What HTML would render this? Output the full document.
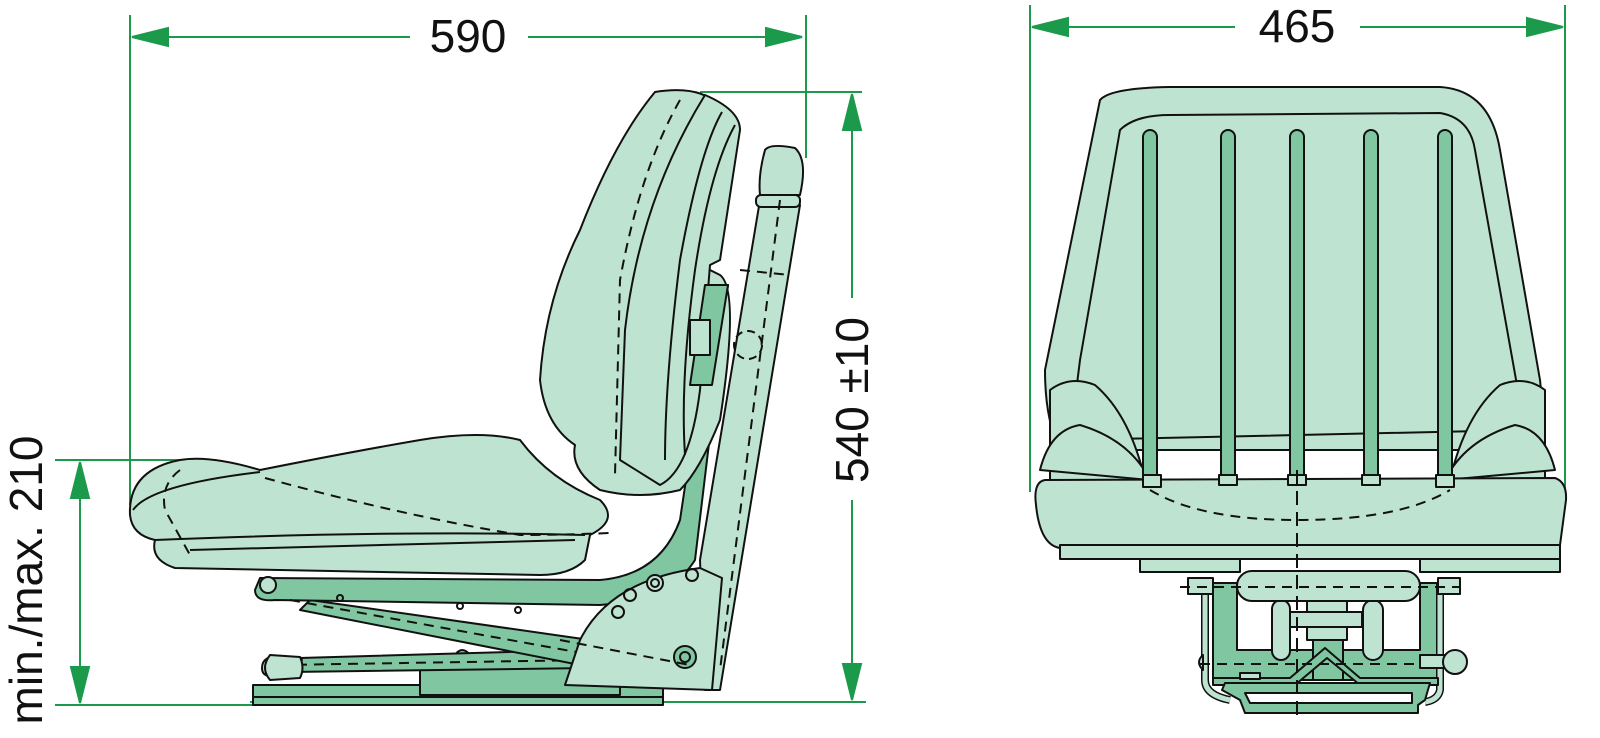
<!DOCTYPE html>
<html><head><meta charset="utf-8"><style>
html,body{margin:0;padding:0;background:#fff;width:1600px;height:738px;overflow:hidden}
svg{display:block}
text{font-family:"Liberation Sans Narrow","Liberation Sans",sans-serif;font-size:46px;fill:#111}
</style></head><body>
<svg width="1600" height="738" viewBox="0 0 1600 738" xmlns="http://www.w3.org/2000/svg">
<g stroke="#1a9a4a" stroke-width="2" fill="none">
<line x1="130" y1="15" x2="130" y2="505"/>
<line x1="806" y1="15" x2="806" y2="158"/>
<line x1="700" y1="92" x2="862" y2="92"/>
<line x1="250" y1="702" x2="866" y2="702"/>
<line x1="55" y1="460" x2="185" y2="460"/>
<line x1="55" y1="705" x2="255" y2="705"/>
<line x1="1030" y1="5" x2="1030" y2="492"/>
<line x1="1565" y1="5" x2="1565" y2="492"/>
</g>
<g stroke="#1a9a4a" stroke-width="2">
<line x1="132" y1="37" x2="410" y2="37"/><polygon points="132,37 168,28 168,46" fill="#1a9a4a"/>
<line x1="528" y1="37" x2="800" y2="37"/><polygon points="802,37 766,28 766,46" fill="#1a9a4a"/>
<line x1="1032" y1="27" x2="1235" y2="27"/><polygon points="1032,27 1068,18 1068,36" fill="#1a9a4a"/>
<line x1="1360" y1="27" x2="1562" y2="27"/><polygon points="1563,27 1527,18 1527,36" fill="#1a9a4a"/>
<line x1="852" y1="94" x2="852" y2="298"/><polygon points="852,94 843,130 861,130" fill="#1a9a4a"/>
<line x1="852" y1="500" x2="852" y2="700"/><polygon points="852,700 843,664 861,664" fill="#1a9a4a"/>
<line x1="80" y1="462" x2="80" y2="703"/><polygon points="80,462 71,498 89,498" fill="#1a9a4a"/><polygon points="80,703 71,667 89,667" fill="#1a9a4a"/>
</g>
<text x="468" y="52" text-anchor="middle">590</text>
<text x="1297" y="42" text-anchor="middle">465</text>
<text transform="translate(868,400) rotate(-90)" text-anchor="middle">540 ±10</text>
<text transform="translate(42,580) rotate(-90)" text-anchor="middle">min./max. 210</text>

<g stroke="#111" stroke-width="2" stroke-linejoin="round">
<!-- LEFT VIEW -->
<rect x="253" y="685" width="410" height="20" fill="#80c6a0"/>
<line x1="253" y1="697" x2="663" y2="697"/>
<rect x="420" y="665" width="200" height="30" fill="#80c6a0"/>
<path d="M430,663 L430,655 L455,655 Q462,645 470,655 L505,655 L505,663 Z" fill="#80c6a0"/>
<path d="M290,672 L300,658 L580,650 L590,668 Z" fill="#80c6a0"/>
<path d="M262,668 Q262,655 282,656 L302,658 L300,672 L282,674 Q262,680 262,668 Z" fill="#bfe3d1"/>
<line x1="280" y1="665" x2="590" y2="660" stroke-dasharray="10,7"/>
<path d="M310,600 L590,640 L600,660 L580,665 L300,610 Z" fill="#80c6a0"/>
<path d="M260,578 L600,580 Q660,575 680,520 L715,285 L728,285 L695,560 Q670,600 600,605 L275,600 Q255,602 255,590 Z" fill="#80c6a0"/>
<line x1="290" y1="600" x2="620" y2="660" stroke-dasharray="10,7"/>
<circle cx="268" cy="585" r="8" fill="#bfe3d1"/>
<circle cx="340" cy="598" r="3" fill="none"/><circle cx="460" cy="606" r="3" fill="none"/><circle cx="518" cy="610" r="3" fill="none"/><circle cx="680" cy="482" r="3" fill="none"/>
<path d="M760,200 L800,205 L720,690 L705,690 L700,560 Z" fill="#bfe3d1"/>
<path d="M765,150 Q770,143 795,148 Q808,160 800,195 L760,195 Q758,175 765,150 Z" fill="#bfe3d1"/>
<rect x="756" y="195" width="44" height="12" rx="5" fill="#bfe3d1"/>
<path d="M655,92 Q700,85 718,105 Q700,160 700,265 L720,275 Q740,290 720,420 Q700,470 680,490 Q640,500 600,490 Q570,470 575,445 Q545,425 540,380 Q545,300 580,230 Q615,140 655,92 Z" fill="#bfe3d1"/>
<path d="M705,95 Q740,110 740,130 L720,260 L710,265 L700,390 Q690,470 660,485 L620,460 L625,330 Q640,200 705,95 Z" fill="#bfe3d1"/>
<path d="M722,112 Q700,150 680,260 Q665,380 665,460" fill="none"/>
<path d="M735,125 Q710,170 695,270 Q680,380 685,455" fill="none"/>
<path d="M680,100 Q640,170 620,280 L615,475" fill="none" stroke-dasharray="10,7"/>
<path d="M705,285 L728,285 L712,385 L690,385 Z" fill="#80c6a0"/>
<rect x="690" y="320" width="20" height="35" fill="#bfe3d1"/>
<circle cx="748" cy="345" r="14" fill="none" stroke-dasharray="8,5"/>
<line x1="780" y1="200" x2="720" y2="670" stroke-dasharray="10,7"/>
<line x1="740" y1="270" x2="790" y2="275" stroke-dasharray="10,7"/>
<path d="M565,685 L580,640 Q610,580 700,568 L722,578 L712,690 Z" fill="#bfe3d1"/>
<circle cx="655" cy="583" r="8" fill="#bfe3d1"/><circle cx="655" cy="583" r="4" fill="none"/>
<circle cx="630" cy="595" r="6" fill="none"/><circle cx="618" cy="612" r="6" fill="none"/><circle cx="692" cy="575" r="6" fill="none"/>
<circle cx="685" cy="657" r="11" fill="#80c6a0"/><circle cx="685" cy="657" r="5" fill="none"/>
<line x1="560" y1="640" x2="690" y2="665" stroke-dasharray="10,7"/>
<path d="M180,460 Q210,455 260,470 Q350,452 420,440 Q480,430 520,440 Q550,480 600,500 Q620,520 590,535 L585,560 Q570,575 540,575 L175,568 Q150,560 155,540 Q132,535 130,515 Q128,470 180,460 Z" fill="#bfe3d1"/>
<path d="M133,510 Q150,485 260,472" fill="none"/>
<path d="M155,540 Q400,530 585,535" fill="none"/>
<path d="M190,550 Q400,545 575,540" fill="none"/>
<path d="M180,470 Q160,485 165,510 L190,555" fill="none" stroke-dasharray="10,7"/>
<path d="M265,478 Q400,515 520,535 Q560,535 610,533" fill="none" stroke-dasharray="10,7"/>
<path d="M270,655 L300,657 Q305,668 300,678 L270,680 Q260,668 270,655 Z" fill="#bfe3d1"/>

<!-- RIGHT VIEW -->
<path d="M1100,100 Q1110,88 1170,87 L1440,87 Q1490,90 1500,150 L1540,380 Q1545,420 1530,450 L1060,450 Q1045,420 1045,370 Z" fill="#bfe3d1"/>
<path d="M1120,130 Q1135,115 1170,115 L1440,113 Q1470,118 1475,150 L1525,430 L1070,440 L1080,360 Z" fill="#bfe3d1"/>
<path d="M1050,390 Q1070,375 1095,385 Q1130,415 1145,480 L1050,480 Z" fill="#bfe3d1"/>
<path d="M1545,390 Q1525,375 1500,385 Q1465,415 1450,480 L1545,480 Z" fill="#bfe3d1"/>
<path d="M1040,470 Q1050,430 1080,425 Q1130,440 1150,480 Z" fill="#bfe3d1"/>
<path d="M1555,470 Q1545,430 1515,425 Q1465,440 1445,480 Z" fill="#bfe3d1"/>
<path d="M1045,480 L1555,478 Q1567,482 1566,500 L1560,545 L1060,548 Q1040,545 1036,505 Q1033,482 1045,480 Z" fill="#bfe3d1"/>
<rect x="1060" y="545" width="500" height="14" fill="#bfe3d1"/>
<path d="M1150,490 Q1200,520 1297,520 Q1400,520 1450,490" fill="none" stroke-dasharray="10,7"/>
<g fill="#80c6a0">
<rect x="1143" y="130" width="14" height="355" rx="7"/>
<rect x="1221" y="130" width="14" height="355" rx="7"/>
<rect x="1290" y="130" width="14" height="355" rx="7"/>
<rect x="1364" y="130" width="14" height="355" rx="7"/>
<rect x="1438" y="130" width="14" height="355" rx="7"/>
</g>
<g fill="#bfe3d1">
<rect x="1143" y="475" width="18" height="12"/><rect x="1219" y="475" width="18" height="10"/><rect x="1288" y="475" width="18" height="10"/><rect x="1362" y="475" width="18" height="10"/><rect x="1436" y="475" width="18" height="12"/>
</g>
<!-- suspension -->
<rect x="1140" y="559" width="100" height="13" fill="#bfe3d1"/>
<rect x="1420" y="559" width="140" height="13" fill="#bfe3d1"/>
<rect x="1213" y="583" width="225" height="97" fill="#80c6a0"/>
<rect x="1237" y="583" width="183" height="67" fill="#fff"/>
<path d="M1205,583 L1205,680 Q1205,695 1230,700" fill="none" stroke-width="8" stroke="#111"/>
<path d="M1205,583 L1205,680 Q1205,695 1230,700" fill="none" stroke-width="5" stroke="#bfe3d1"/>
<path d="M1440,583 L1440,690 Q1438,700 1425,702" fill="none" stroke-width="8" stroke="#111"/>
<path d="M1440,583 L1440,690 Q1438,700 1425,702" fill="none" stroke-width="5" stroke="#bfe3d1"/>
<rect x="1307" y="600" width="40" height="40" fill="#bfe3d1"/>
<rect x="1313" y="640" width="30" height="40" fill="#80c6a0"/>
<rect x="1290" y="612" width="72" height="15" fill="#bfe3d1"/>
<rect x="1272" y="600" width="18" height="60" rx="9" fill="#bfe3d1"/>
<rect x="1363" y="600" width="20" height="60" rx="10" fill="#bfe3d1"/>
<path d="M1213,678 L1290,678 L1325,648 L1360,678 L1438,678 L1438,685 L1360,685 L1327,658 L1295,685 L1213,685 Z" fill="#80c6a0"/>
<path d="M1225,683 L1430,683 L1425,700 L1418,705 L1418,713 L1245,713 L1240,700 L1222,690 Z" fill="#80c6a0"/>
<path d="M1245,693 L1412,693 L1412,703 L1250,703 Z" fill="#fff"/>
<rect x="1240" y="673" width="20" height="6" fill="#bfe3d1"/>
<rect x="1237" y="571" width="183" height="30" rx="15" fill="#bfe3d1"/>
<rect x="1188" y="578" width="25" height="16" fill="#bfe3d1"/><rect x="1438" y="578" width="22" height="16" fill="#bfe3d1"/>
<path d="M1420,655 L1445,655 L1445,668 L1420,668 Z" fill="#bfe3d1"/>
<circle cx="1455" cy="662" r="12" fill="#bfe3d1"/>
<path d="M1203,655 Q1195,662 1203,670 Z" fill="#bfe3d1"/>
<line x1="1180" y1="587" x2="1460" y2="587" stroke-dasharray="10,7"/>
<line x1="1200" y1="664" x2="1420" y2="664" stroke-dasharray="10,7"/>
<line x1="1297" y1="470" x2="1297" y2="720" stroke-dasharray="14,7"/>
</g>
</svg>
</body></html>
